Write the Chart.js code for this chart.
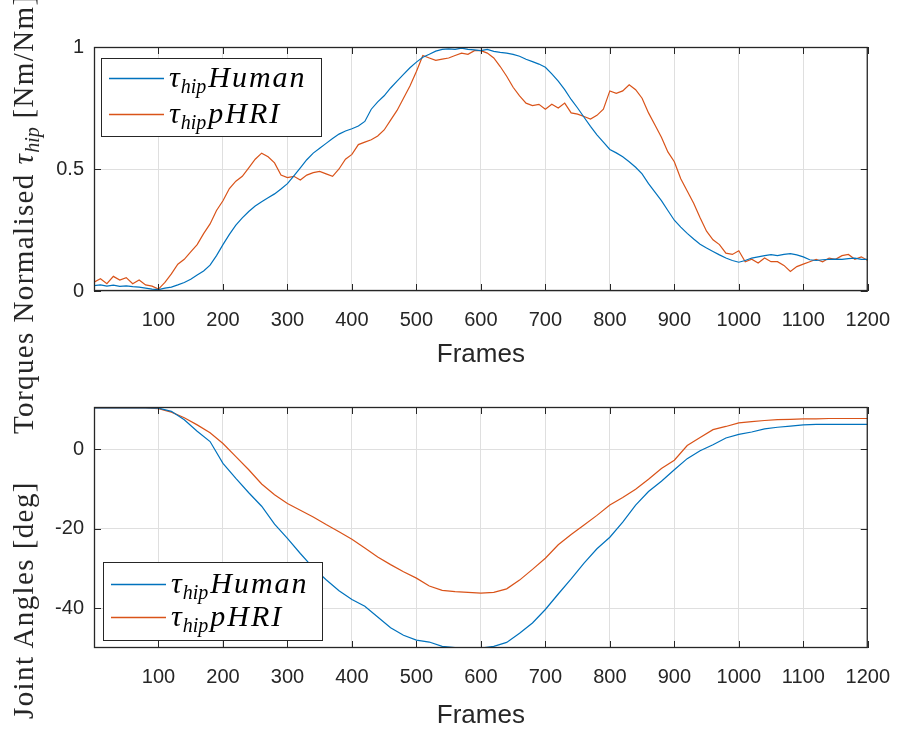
<!DOCTYPE html>
<html>
<head>
<meta charset="utf-8">
<script src="https://cdn.jsdelivr.net/npm/chart.js@4"></script>
<style>
  html, body { margin: 0; padding: 0; background: #fff; }
  #wrap { position: relative; width: 907px; height: 731px; overflow: hidden; }
  canvas { position: absolute; left: 0; }
  .ylab {
    position: absolute; transform: rotate(-90deg); transform-origin: 0 0;
    white-space: nowrap; font: 29px "Liberation Serif", serif; line-height: 1; color: #262626;
    letter-spacing: 1.4px;
  }
  .ylab sub { font-size: 20px; vertical-align: -6px; line-height: 0; letter-spacing: 0; }
</style>
</head>
<body>
<div id="wrap">
  <canvas id="torque" width="907" height="370" style="top:0"></canvas>
  <canvas id="angle" width="907" height="361" style="top:370px"></canvas>
  <div class="ylab" style="left:9px;top:434px">Torques Normalised <i>τ<sub>hip</sub></i> [Nm/Nm]</div>
  <div class="ylab" style="left:9px;top:719px">Joint Angles [deg]</div>
</div>
<script>
// sampling grids (frame numbers)
const torqueFrames = Array.from({ length: 121 }, (_, i) => i * 10);
const angleFrames = Array.from({ length: 61 }, (_, i) => i * 20);

const frameTicks = [100, 200, 300, 400, 500, 600, 700, 800, 900, 1000, 1100, 1200];
const torqueTicks = [0, 0.5, 1];
const angleTicks = [-40, -20, 0];

const seriesNames = ['Human', 'pHRI'];
const seriesColors = ['#0072BD', '#D95319'];

// normalised hip torque, every 10 frames
const humanTorque = [
  0.022, 0.025, 0.020, 0.024, 0.019, 0.021, 0.018, 0.016, 0.012, 0.008,
  0.006, 0.012, 0.016, 0.025, 0.035, 0.048, 0.066, 0.082, 0.106, 0.145,
  0.190, 0.232, 0.270, 0.300, 0.326, 0.348, 0.366, 0.382, 0.398, 0.418,
  0.440, 0.472, 0.505, 0.538, 0.565, 0.585, 0.605, 0.625, 0.643, 0.656,
  0.665, 0.676, 0.695, 0.745, 0.775, 0.800, 0.832, 0.860, 0.888, 0.915,
  0.938, 0.958, 0.970, 0.983, 0.990, 0.992, 0.990, 0.995, 0.990, 0.988,
  0.985, 0.990, 0.982, 0.978, 0.975, 0.970, 0.962, 0.950, 0.940, 0.930,
  0.917, 0.890, 0.860, 0.825, 0.785, 0.750, 0.712, 0.675, 0.640, 0.610,
  0.580, 0.566, 0.550, 0.530, 0.507, 0.480, 0.440, 0.405, 0.370, 0.330,
  0.290, 0.262, 0.236, 0.213, 0.192, 0.176, 0.162, 0.148, 0.135, 0.125,
  0.118, 0.125, 0.135, 0.140, 0.145, 0.149, 0.145, 0.150, 0.153, 0.148,
  0.140, 0.128, 0.125, 0.128, 0.130, 0.131, 0.130, 0.133, 0.135, 0.130,
  0.130
];
const pHRITorque = [
  0.036, 0.050, 0.030, 0.060, 0.045, 0.055, 0.030, 0.045, 0.025, 0.020,
  0.008, 0.035, 0.070, 0.110, 0.130, 0.160, 0.190, 0.235, 0.275, 0.330,
  0.370, 0.420, 0.450, 0.470, 0.505, 0.540, 0.565, 0.550, 0.525, 0.475,
  0.465, 0.470, 0.455, 0.475, 0.485, 0.490, 0.480, 0.470, 0.500, 0.540,
  0.560, 0.600, 0.610, 0.620, 0.635, 0.660, 0.700, 0.740, 0.790, 0.840,
  0.900, 0.965, 0.955, 0.945, 0.950, 0.955, 0.965, 0.975, 0.970, 0.985,
  0.985, 0.975, 0.955, 0.920, 0.880, 0.835, 0.800, 0.770, 0.760, 0.765,
  0.745, 0.765, 0.750, 0.770, 0.730, 0.725, 0.715, 0.705, 0.720, 0.745,
  0.820, 0.810, 0.820, 0.845, 0.825, 0.790, 0.730, 0.680, 0.630, 0.570,
  0.530, 0.460, 0.410, 0.360, 0.300, 0.245, 0.210, 0.190, 0.155, 0.150,
  0.165, 0.120, 0.130, 0.115, 0.135, 0.120, 0.120, 0.105, 0.080, 0.100,
  0.110, 0.120, 0.130, 0.120, 0.135, 0.130, 0.145, 0.150, 0.130, 0.140,
  0.125
];

// hip joint angle in degrees, every 20 frames
const humanAngle = [
  10.5, 10.5, 10.5, 10.5, 10.5, 10.4, 9.6, 7.5, 4.6, 2.0,
  -3.5, -7.3, -10.9, -14.3, -18.8, -22.4, -26.2, -29.8, -32.8, -35.6,
  -37.8, -39.5, -42.2, -44.9, -46.8, -48.0, -48.5, -49.6, -49.9, -50.0,
  -50.0, -49.6, -48.6, -46.3, -43.7, -40.3, -36.4, -32.6, -28.6, -25.0,
  -22.1, -18.3, -14.0, -10.6, -8.0, -5.1, -2.3, -0.3, 1.2, 2.9,
  3.8, 4.4, 5.2, 5.6, 5.9, 6.2, 6.3, 6.3, 6.3, 6.3,
  6.3
];
const pHRIAngle = [
  10.5, 10.5, 10.5, 10.5, 10.5, 10.3, 9.4, 8.0, 6.2, 4.2,
  1.5, -1.8, -5.1, -8.7, -11.4, -13.6, -15.3, -17.0, -18.9, -20.7,
  -22.6, -24.8, -27.1, -29.0, -30.8, -32.4, -34.4, -35.5, -35.8, -36.0,
  -36.2, -36.0, -35.1, -32.9, -30.2, -27.4, -24.0, -21.4, -19.0, -16.6,
  -14.0, -12.1, -10.0, -7.5, -4.8, -2.7, 1.0, 3.0, 5.0, 5.8,
  6.7, 7.0, 7.3, 7.5, 7.6, 7.7, 7.7, 7.8, 7.8, 7.8,
  7.8
];

Chart.defaults.font.family = '"Liberation Sans", Arial, sans-serif';
Chart.defaults.font.size = 20;
Chart.defaults.color = '#262626';

const axisColor = '#262626';
const gridColor = '#dfdfdf';

// axes box with inward ticks on all four sides
const boxPlugin = {
  id: 'axesBox',
  afterDatasetsDraw(chart) {
    const { ctx, chartArea: a, scales: { x, y } } = chart;
    ctx.save();
    ctx.strokeStyle = axisColor;
    ctx.lineWidth = 1;
    ctx.beginPath();
    x.ticks.forEach(t => {
      const px = Math.round(x.getPixelForValue(t.value)) + 0.5;
      ctx.moveTo(px, a.top); ctx.lineTo(px, a.top + 7);
      ctx.moveTo(px, a.bottom); ctx.lineTo(px, a.bottom - 7);
    });
    y.ticks.forEach(t => {
      const py = Math.round(y.getPixelForValue(t.value)) + 0.5;
      ctx.moveTo(a.left, py); ctx.lineTo(a.left + 7, py);
      ctx.moveTo(a.right, py); ctx.lineTo(a.right - 7, py);
    });
    ctx.stroke();
    ctx.lineWidth = 1.3;
    ctx.strokeRect(a.left + 0.5, a.top + 0.5, a.width - 1, a.height - 1);
    ctx.restore();
  }
};

// boxed legend with τ_hip labels set in math italic
const texLegend = {
  id: 'texLegend',
  afterDraw(chart, args, opts) {
    const { ctx } = chart;
    const { left, top, width, height, rows } = opts;
    ctx.save();
    ctx.fillStyle = '#fff';
    ctx.fillRect(left, top, width, height);
    ctx.strokeStyle = axisColor;
    ctx.lineWidth = 1;
    ctx.strokeRect(left + 0.5, top + 0.5, width, height);
    chart.data.datasets.forEach((ds, i) => {
      const ly = top + rows[i];
      ctx.strokeStyle = ds.borderColor;
      ctx.lineWidth = 1.3;
      ctx.beginPath();
      ctx.moveTo(left + 8, ly + 0.5);
      ctx.lineTo(left + 63, ly + 0.5);
      ctx.stroke();
      const base = ly + 9;
      let tx = left + 68;
      ctx.fillStyle = '#000';
      ctx.textBaseline = 'alphabetic';
      ctx.letterSpacing = '0px';
      ctx.font = 'italic 30px "Liberation Serif", serif';
      ctx.fillText('τ', tx, base);
      tx += ctx.measureText('τ').width + 1;
      ctx.font = 'italic 20px "Liberation Serif", serif';
      ctx.fillText('hip', tx, base + 6);
      tx += ctx.measureText('hip').width + 2;
      ctx.font = 'italic 30px "Liberation Serif", serif';
      ctx.letterSpacing = '2px';
      ctx.fillText(seriesNames[i], tx, base);
    });
    ctx.restore();
  }
};

const plainLabel = v => String(v);

function makePanel(id, frames, series, yMin, yMax, yTicks, padTop, xHeight, legend) {
  return new Chart(document.getElementById(id), {
    type: 'line',
    data: {
      datasets: series.map((vals, i) => ({
        label: 'τhip ' + seriesNames[i],
        data: frames.map((f, k) => ({ x: f, y: vals[k] })),
        borderColor: seriesColors[i],
        borderWidth: 1.2,
        pointRadius: 0,
        tension: 0,
        fill: false
      }))
    },
    options: {
      responsive: false,
      animation: false,
      layout: { padding: { top: padTop, right: 31, left: 0, bottom: 0 } },
      plugins: {
        legend: { display: false },
        tooltip: { enabled: false },
        texLegend: legend
      },
      scales: {
        x: {
          type: 'linear', min: 0, max: 1200,
          afterBuildTicks: s => { s.ticks = frameTicks.map(v => ({ value: v })); },
          afterFit: s => { s.height = xHeight; },
          grid: { color: gridColor, drawTicks: false },
          border: { display: false },
          ticks: { padding: 17, maxRotation: 0, autoSkip: false, callback: plainLabel },
          title: { display: true, text: 'Frames', font: { size: 26 }, padding: { top: 0, bottom: 0 } }
        },
        y: {
          min: yMin, max: yMax,
          afterBuildTicks: s => { s.ticks = yTicks.map(v => ({ value: v })); },
          afterFit: s => { s.width = 94; },
          grid: { color: gridColor, drawTicks: false },
          border: { display: false },
          ticks: { padding: 10, callback: plainLabel }
        }
      }
    },
    plugins: [boxPlugin, texLegend]
  });
}

makePanel('torque', torqueFrames, [humanTorque, pHRITorque], 0, 1, torqueTicks, 47, 79,
  { left: 101, top: 58, width: 220, height: 78, rows: [20, 56] });
makePanel('angle', angleFrames, [humanAngle, pHRIAngle], -50, 10.7, angleTicks, 37, 83,
  { left: 103, top: 192, width: 219, height: 78, rows: [22, 55] });
</script>
</body>
</html>
